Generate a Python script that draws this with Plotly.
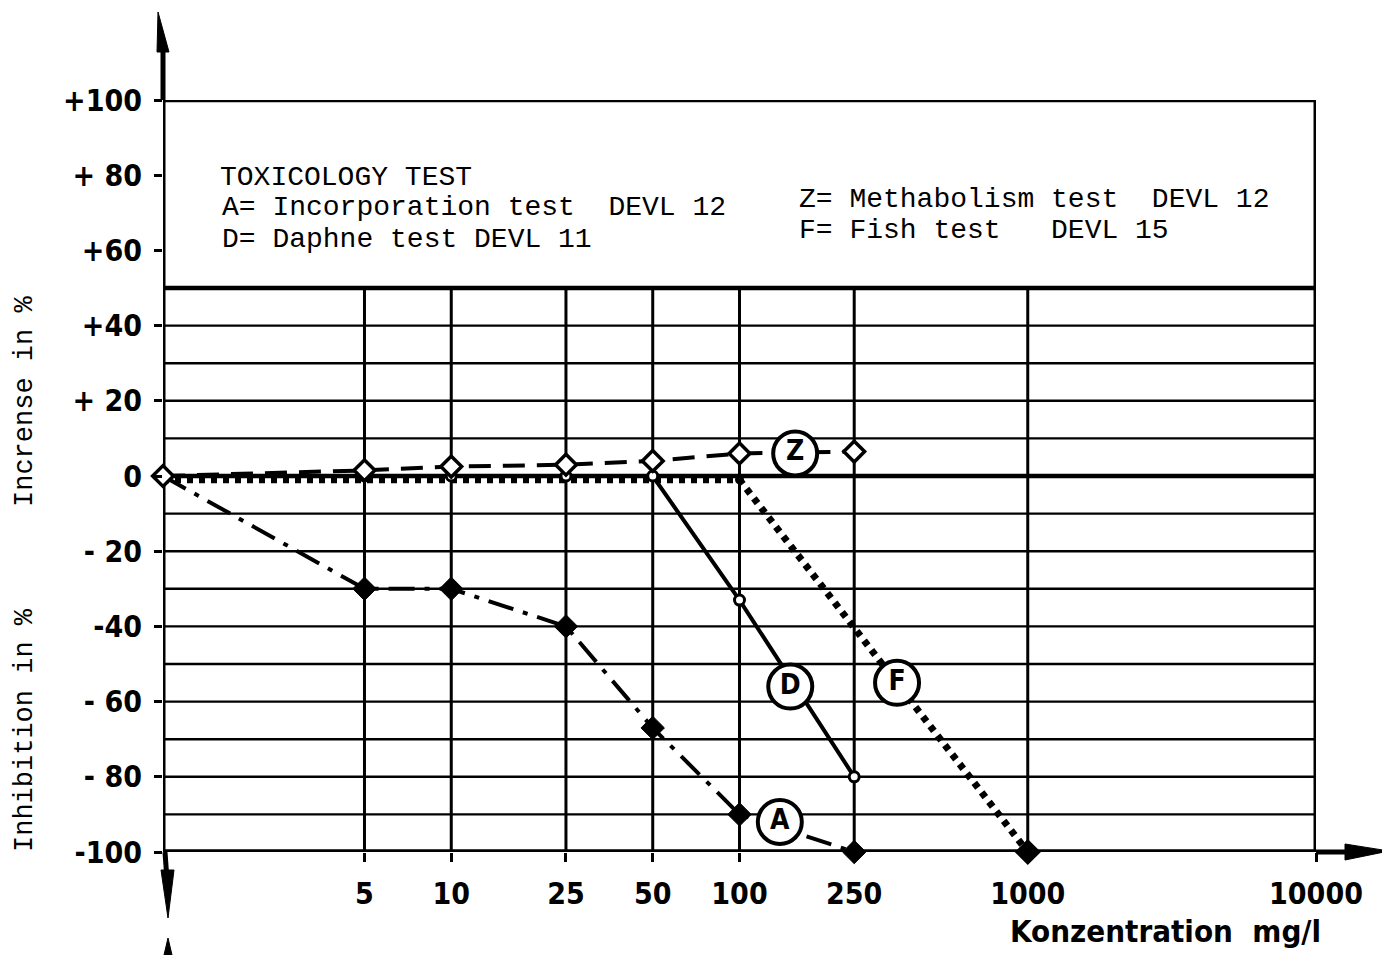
import plotly.graph_objects as go

# ---------------- data ----------------
conc = [1, 5, 10, 25, 50, 100, 250]
z_vals = [0, 1.5, 2.5, 3, 4, 6, 6.5]          # Z = Methabolism test
d_vals = [0, 0, 0, 0, 0, -33, -80]            # D = Daphne test
a_vals = [0, -30, -30, -40, -67, -90, -100]   # A = Incorporation test
f_conc = [1, 5, 10, 25, 50, 100, 1000]
f_vals = [-1, -1, -1, -1, -1, -1, -100]       # F = Fish test
f_end_conc = [1000]
f_end_vals = [-100]
f_knee_conc = [100]
f_knee_vals = [-1]

x_tick_vals = [5, 10, 25, 50, 100, 250, 1000, 10000]
x_tick_text = ["5", "10", "25", "50", "100", "250", "1000", "10000"]
y_tick_vals = [100, 80, 60, 40, 20, 0, -20, -40, -60, -80, -100]
y_tick_text = ["+100", "+ 80", "+60", "+40", "+ 20", "0", "- 20", "-40", "- 60", "- 80", "-100"]

grid_x = [5, 10, 25, 50, 100, 250, 1000]
grid_y_thin = [-90, -80, -70, -60, -50, -40, -30, -20, -10, 10, 20, 30, 40]
grid_y_thick = [50, 0, 100]

label_letters = ["Z", "D", "F", "A"]
label_x = [156, 150, 352, 138]
label_y = [6, -56, -55, -92]

legend_lines_left = ["TOXICOLOGY TEST", "A= Incorporation test  DEVL 12", "D= Daphne test DEVL 11"]
legend_lines_right = ["Z= Methabolism test  DEVL 12", "F= Fish test   DEVL 15"]

X_MIN, X_MAX = 1, 10000
Y_MIN, Y_MAX = -100, 100

# ---------------- layout helpers (page pixel -> paper) ----------------
OFF = 8  # body margin of the html page
L, R, T, B = 163, 1316, 100, 852
W, H = 1390 - OFF, 955 - OFF


def px(x):
    return (x - L) / (R - L)


def py(y):
    return (B - y) / (B - T)


COND = "Liberation Sans Narrow, DejaVu Sans Condensed, Arial Narrow, Liberation Sans, sans-serif"
MONO = "Liberation Mono, Courier New, DejaVu Sans Mono, monospace"
INK = "#000000"

fig = go.Figure()


def hlines(ys, x0, x1):
    xs, yy = [], []
    for y in ys:
        xs += [x0, x1, None]
        yy += [y, y, None]
    return xs, yy


def vlines(xs_, y0, y1):
    xs, yy = [], []
    for x in xs_:
        xs += [x, x, None]
        yy += [y0, y1, None]
    return xs, yy


# thin horizontal grid
gx, gy = hlines(grid_y_thin, X_MIN, X_MAX)
fig.add_trace(go.Scatter(x=gx, y=gy, mode="lines", line=dict(color=INK, width=2.4),
                         hoverinfo="skip", showlegend=False, cliponaxis=False))
# thick horizontal lines
gx, gy = hlines(grid_y_thick, X_MIN, X_MAX)
fig.add_trace(go.Scatter(x=gx, y=gy, mode="lines", line=dict(color=INK, width=4.5),
                         hoverinfo="skip", showlegend=False, cliponaxis=False))
gx, gy = hlines([Y_MIN], X_MIN, X_MAX)
fig.add_trace(go.Scatter(x=gx, y=gy, mode="lines", line=dict(color=INK, width=5.5),
                         hoverinfo="skip", showlegend=False, cliponaxis=False))
# vertical grid
gx, gy = vlines(grid_x, Y_MIN, 50)
fig.add_trace(go.Scatter(x=gx, y=gy, mode="lines", line=dict(color=INK, width=3),
                         hoverinfo="skip", showlegend=False, cliponaxis=False))
# frame verticals
gx, gy = vlines([X_MIN, X_MAX], Y_MIN, Y_MAX)
fig.add_trace(go.Scatter(x=gx, y=gy, mode="lines", line=dict(color=INK, width=5),
                         hoverinfo="skip", showlegend=False, cliponaxis=False))

# ---------------- series ----------------
# F: dotted
fig.add_trace(go.Scatter(
    x=f_conc, y=f_vals, mode="lines", name="F",
    line=dict(color=INK, width=7, dash="6px,6px"),
    showlegend=False, cliponaxis=False))
fig.add_trace(go.Scatter(
    x=f_knee_conc, y=f_knee_vals, mode="markers", name="F knee",
    marker=dict(symbol="circle", size=9, color=INK, opacity=1),
    showlegend=False, cliponaxis=False))
fig.add_trace(go.Scatter(
    x=f_end_conc, y=f_end_vals, mode="markers", name="F end",
    marker=dict(symbol="diamond", size=18, color="black", opacity=1,
                line=dict(color="black", width=2)),
    showlegend=False, cliponaxis=False))
# A: dash-dot-dot
fig.add_trace(go.Scatter(
    x=conc, y=a_vals, mode="lines+markers", name="A",
    line=dict(color=INK, width=4, dash="26px,10px,5px,10px"),
    marker=dict(symbol="diamond", size=18, color=INK, line=dict(color=INK, width=1)),
    showlegend=False, cliponaxis=False))
# D: solid
fig.add_trace(go.Scatter(
    x=conc, y=d_vals, mode="lines+markers", name="D",
    line=dict(color=INK, width=4),
    marker=dict(symbol="circle", size=10, color="white", line=dict(color=INK, width=3)),
    showlegend=False, cliponaxis=False))
# Z: dashed
fig.add_trace(go.Scatter(
    x=conc, y=z_vals, mode="lines+markers", name="Z",
    line=dict(color=INK, width=4, dash="22px,12px"),
    marker=dict(symbol="diamond", size=16, color="white", line=dict(color=INK, width=3.5)),
    showlegend=False, cliponaxis=False))

# circled series labels
fig.add_trace(go.Scatter(
    x=label_x, y=label_y, mode="markers+text", text=label_letters,
    textposition="middle center",
    textfont=dict(family=COND, size=28, color=INK, weight="bold"),
    marker=dict(symbol="circle", size=44, color="white", line=dict(color=INK, width=4)),
    showlegend=False, hoverinfo="skip", cliponaxis=False))

# ---------------- axes ----------------
fig.update_xaxes(type="log", range=[0, 4], tickvals=x_tick_vals, ticktext=x_tick_text,
                 ticks="outside", ticklen=9, tickwidth=2.5, tickcolor=INK,
                 showgrid=False, zeroline=False, showline=False,
                 tickfont=dict(family=COND, size=30, color=INK, weight="bold"),
                 ticklabelstandoff=6)
fig.update_yaxes(range=[Y_MIN, Y_MAX], tickvals=y_tick_vals, ticktext=y_tick_text,
                 ticks="outside", ticklen=8, tickwidth=2.5, tickcolor=INK,
                 showgrid=False, zeroline=False, showline=False,
                 tickfont=dict(family=COND, size=30, color=INK, weight="bold"),
                 ticklabelstandoff=6)

# ---------------- text ----------------
ann = []
for i, t in enumerate(legend_lines_left):
    ann.append(dict(x=px(218 if i == 0 else 220), y=py([177, 208, 239][i]), xref="paper", yref="paper",
                    text=t, showarrow=False, xanchor="left", yanchor="middle",
                    font=dict(family=MONO, size=28, color=INK)))
for i, t in enumerate(legend_lines_right):
    ann.append(dict(x=px(797), y=py([199, 231][i]), xref="paper", yref="paper",
                    text=t, showarrow=False, xanchor="left", yanchor="middle",
                    font=dict(family=MONO, size=28, color=INK)))
ann.append(dict(x=px(25), y=py(402), xref="paper", yref="paper", text="Incrense in %",
                textangle=-90, showarrow=False, xanchor="center", yanchor="middle",
                font=dict(family=MONO, size=27, color=INK)))
ann.append(dict(x=px(25), y=py(730), xref="paper", yref="paper", text="Inhibition in %",
                textangle=-90, showarrow=False, xanchor="center", yanchor="middle",
                font=dict(family=MONO, size=27, color=INK)))
ann.append(dict(x=px(1008), y=py(931), xref="paper", yref="paper", text="Konzentration  mg/l",
                showarrow=False, xanchor="left", yanchor="middle",
                font=dict(family=COND, size=31, color=INK, weight="bold")))

# ---------------- arrows (decoration) ----------------
shapes = [
    # y-axis shaft up
    dict(type="line", xref="paper", yref="paper", x0=px(163), x1=px(163), y0=py(100), y1=py(40),
         line=dict(color=INK, width=5)),
    dict(type="path", xref="paper", yref="paper",
         path=f"M {px(157)} {py(52)} L {px(158)} {py(12)} L {px(169)} {py(52)} Z",
         fillcolor=INK, line=dict(color=INK, width=1)),
    # y-axis shaft down
    dict(type="line", xref="paper", yref="paper", x0=px(165), x1=px(167), y0=py(852), y1=py(880),
         line=dict(color=INK, width=5)),
    dict(type="path", xref="paper", yref="paper",
         path=f"M {px(161)} {py(870)} L {px(168)} {py(918)} L {px(174)} {py(870)} Z",
         fillcolor=INK, line=dict(color=INK, width=1)),
    dict(type="path", xref="paper", yref="paper",
         path=f"M {px(164)} {py(955)} L {px(168)} {py(938)} L {px(172)} {py(955)} Z",
         fillcolor=INK, line=dict(color=INK, width=1)),
    # x-axis shaft right
    dict(type="line", xref="paper", yref="paper", x0=px(1316), x1=px(1355), y0=py(852), y1=py(852),
         line=dict(color=INK, width=5)),
    dict(type="path", xref="paper", yref="paper",
         path=f"M {px(1345)} {py(844)} L {px(1389)} {py(851)} L {px(1345)} {py(860)} Z",
         fillcolor=INK, line=dict(color=INK, width=1)),
]

fig.update_layout(
    width=W, height=H,
    margin=dict(l=L - OFF, r=W - (R - OFF), t=T - OFF, b=H - (B - OFF)),
    paper_bgcolor="white", plot_bgcolor="white",
    annotations=ann, shapes=shapes,
    showlegend=False,
)

fig.write_html("out.html")
